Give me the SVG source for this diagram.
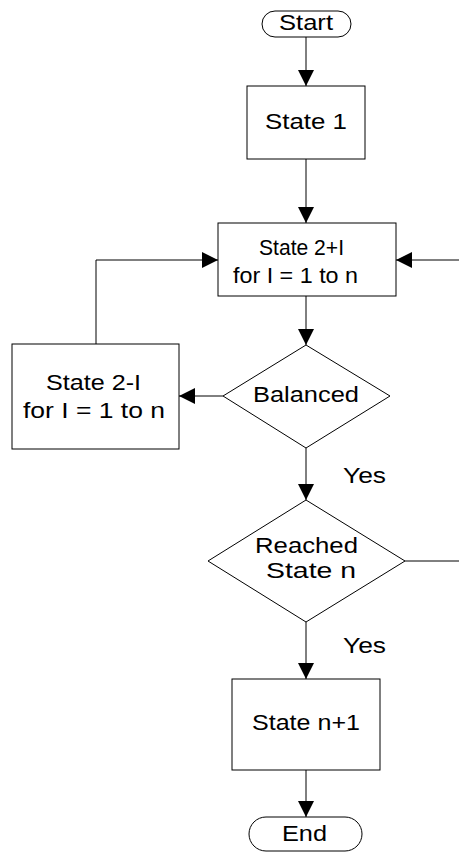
<svg xmlns="http://www.w3.org/2000/svg" width="459" height="853" viewBox="0 0 459 853">
<style>
.shape{fill:#fff;stroke:#000;stroke-width:1}
.lbl{font-family:"Liberation Sans",Arial,sans-serif;font-size:22px;fill:#000;text-anchor:middle}
.conn{fill:none;stroke:#000;stroke-width:1}
</style>
<defs>
<marker id="arr" markerUnits="userSpaceOnUse" markerWidth="16" markerHeight="16" viewBox="0 0 16 16" refX="16" refY="8" orient="auto">
<path d="M0,0 L16,8 L0,16 Z" fill="#000"/>
</marker>
</defs>
<rect width="459" height="853" fill="#fff"/>
<g id="connectors">
<path class="conn" d="M306,37 V86" marker-end="url(#arr)"/>
<path class="conn" d="M306,159 V223" marker-end="url(#arr)"/>
<path class="conn" d="M306,296 V345" marker-end="url(#arr)"/>
<path class="conn" d="M223,396 H179" marker-end="url(#arr)"/>
<path class="conn" d="M96,344 V260 H218" marker-end="url(#arr)"/>
<path class="conn" d="M405,561 H465 V260 H396" marker-end="url(#arr)"/>
<path class="conn" d="M306,448 V500" marker-end="url(#arr)"/>
<path class="conn" d="M306,622 V679" marker-end="url(#arr)"/>
<path class="conn" d="M306,770 V817" marker-end="url(#arr)"/>
<text class="lbl" x="364.5" y="483" textLength="43" lengthAdjust="spacingAndGlyphs">Yes</text>
<text class="lbl" x="364.5" y="653" textLength="43" lengthAdjust="spacingAndGlyphs">Yes</text>
</g>
<g id="start">
<rect class="shape" x="262" y="11" width="89" height="26" rx="13"/>
<text class="lbl" x="306" y="30" textLength="54" lengthAdjust="spacingAndGlyphs">Start</text>
</g>
<g id="state1">
<rect class="shape" x="247" y="86" width="118" height="73"/>
<text class="lbl" x="306" y="129" textLength="82" lengthAdjust="spacingAndGlyphs">State 1</text>
</g>
<g id="state2plus">
<rect class="shape" x="218" y="223" width="178" height="73"/>
<text class="lbl" x="301.5" y="255" textLength="85" lengthAdjust="spacingAndGlyphs">State 2+I</text>
<text class="lbl" x="295.5" y="283" textLength="125" lengthAdjust="spacingAndGlyphs">for I = 1 to n</text>
</g>
<g id="balanced">
<polygon class="shape" points="306,345 390,396 306,448 223,396"/>
<text class="lbl" x="306" y="402" textLength="106" lengthAdjust="spacingAndGlyphs">Balanced</text>
</g>
<g id="state2minus">
<rect class="shape" x="12" y="344" width="167" height="105"/>
<text class="lbl" x="93.5" y="390" textLength="95" lengthAdjust="spacingAndGlyphs">State 2-I</text>
<text class="lbl" x="94" y="418" textLength="142" lengthAdjust="spacingAndGlyphs">for I = 1 to n</text>
</g>
<g id="reached">
<polygon class="shape" points="306,500 405,561 306,622 208,561"/>
<text class="lbl" x="306.5" y="553" textLength="103" lengthAdjust="spacingAndGlyphs">Reached</text>
<text class="lbl" x="311" y="578" textLength="90" lengthAdjust="spacingAndGlyphs">State n</text>
</g>
<g id="staten1">
<rect class="shape" x="232" y="679" width="148" height="91"/>
<text class="lbl" x="306" y="730" textLength="108" lengthAdjust="spacingAndGlyphs">State n+1</text>
</g>
<g id="end">
<rect class="shape" x="249" y="817" width="113" height="34" rx="17"/>
<text class="lbl" x="304.5" y="841" textLength="45" lengthAdjust="spacingAndGlyphs">End</text>
</g>
</svg>
